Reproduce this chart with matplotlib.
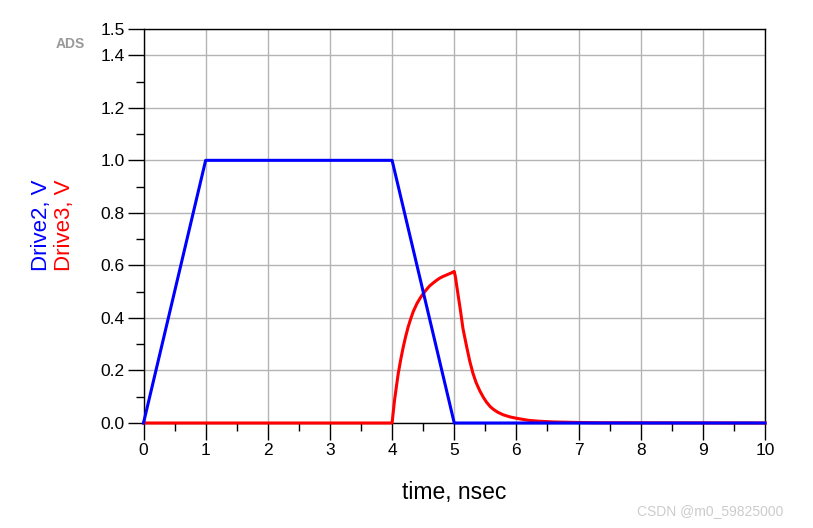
import matplotlib as mpl
mpl.use('Agg')
import matplotlib.pyplot as plt
import numpy as np

plt.rcParams['font.family'] = ['Liberation Sans', 'DejaVu Sans']

# Drive2: trapezoid pulse (time in nsec, volts)
drive2_t = [0, 1, 4, 5, 10]
drive2_v = [0, 1, 1, 0, 0]

# Drive3: values
drive3_t = [0, 4.0, 4.02, 4.04, 4.07, 4.1, 4.14, 4.18, 4.22, 4.26, 4.3, 4.34, 4.4, 4.45,
            4.5, 4.55, 4.6, 4.66, 4.72, 4.77, 4.83, 4.88, 4.94, 5.0,
            5.02, 5.04, 5.07, 5.1, 5.14, 5.2, 5.25, 5.3, 5.35, 5.41, 5.47, 5.52, 5.58,
            5.63, 5.7, 5.79, 5.9, 6.0, 6.1, 6.2, 6.35, 6.6, 7.0, 7.3, 10]
drive3_v = [0, 0, 0.045, 0.088, 0.14, 0.19, 0.243, 0.29, 0.331, 0.367, 0.397, 0.424, 0.455, 0.475,
            0.492, 0.507, 0.521, 0.533, 0.544, 0.552, 0.559, 0.564, 0.57, 0.577,
            0.555, 0.522, 0.475, 0.428, 0.36, 0.29, 0.235, 0.19, 0.155, 0.123, 0.097, 0.079, 0.062,
            0.052, 0.041, 0.031, 0.023, 0.018, 0.014, 0.01, 0.007, 0.004, 0.002, 0.001, 0]

x_major = np.arange(0, 11, 1)
x_minor = np.arange(0.5, 10, 1)
y_major = [0.0, 0.2, 0.4, 0.6, 0.8, 1.0, 1.2, 1.4, 1.5]
y_minor = [0.1, 0.3, 0.5, 0.7, 0.9, 1.1, 1.3]

fig = plt.figure(figsize=(8.13, 5.28), dpi=100)
ax = fig.add_axes([143.5 / 813, 105 / 528, (765 - 143.5) / 813, (423 - 29) / 528])

ax.plot(drive3_t, drive3_v, color='#ff0000', lw=2.2, zorder=3, clip_on=False)
ax.plot(drive2_t, drive2_v, color='#0000ff', lw=2.2, zorder=4, clip_on=False)

ax.set_xlim(0, 10)
ax.set_ylim(0, 1.5)
ax.set_xticks(x_major)
ax.set_xticks(x_minor, minor=True)
ax.set_yticks(y_major)
ax.set_yticklabels(['%.1f' % v for v in y_major])
ax.set_yticks(y_minor, minor=True)

ax.grid(True, which='major', color='#b4b4b4', lw=1)
ax.set_axisbelow(True)
for s in ax.spines.values():
    s.set_color('black')
    s.set_linewidth(1)

ax.tick_params(axis='x', which='major', direction='out', length=12.5, width=1, labelsize=12.5, pad=2)
ax.tick_params(axis='x', which='minor', direction='out', length=6, width=1)
ax.tick_params(axis='y', which='major', direction='out', length=11.5, width=1, labelsize=12.5, pad=2)
ax.tick_params(axis='y', which='minor', direction='out', length=6, width=1)

fig.text(454 / 813, 1 - 493 / 528, 'time, nsec', fontsize=16.5, ha='center', va='center')
fig.text(42 / 813, 1 - 225 / 528, 'Drive2, V', color='#0000ff', fontsize=16,
         rotation=90, ha='center', va='center')
fig.text(64 / 813, 1 - 225 / 528, 'Drive3, V', color='#ff0000', fontsize=16,
         rotation=90, ha='center', va='center')
fig.text(70 / 813, 1 - 44 / 528, 'ADS', color='#999999', fontsize=10, fontweight='bold',
         ha='center', va='center')
fig.text(710 / 813, 1 - 511 / 528, 'CSDN @m0_59825000', color='#cccccc', fontsize=10,
         ha='center', va='center')

fig.savefig('out.png', dpi=100)
